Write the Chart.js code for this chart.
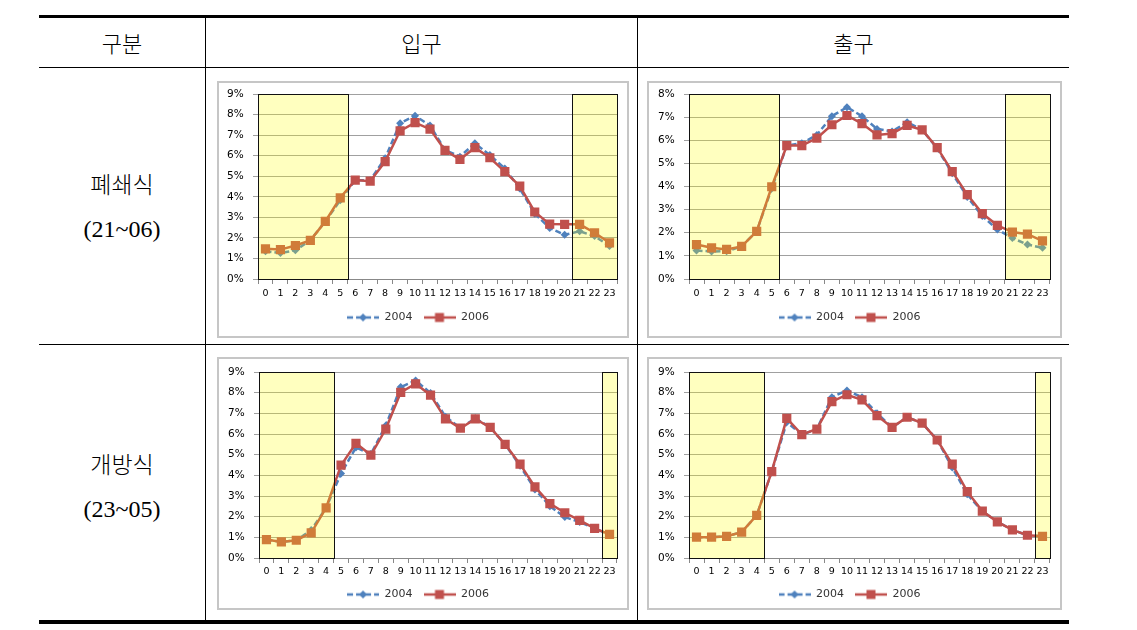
<!DOCTYPE html>
<html>
<head>
<meta charset="utf-8">
<script src="https://cdn.jsdelivr.net/npm/chart.js@4.4.1/dist/chart.umd.min.js"></script>
<style>
  body { margin: 0; background: #fff; width: 1137px; height: 630px; position: relative; overflow: hidden; }
  .ln { position: absolute; background: #000; }
  .txt { position: absolute; text-align: center; color: #000; }
  .hd { font-family: "Noto Sans CJK KR"; font-weight: 300; font-size: 22px; line-height: 28px; }
  .rw { font-family: "Liberation Serif"; font-size: 24px; line-height: 44px; }
  .rw .ko { font-family: "Noto Sans CJK KR"; font-weight: 300; font-size: 23px; }
  .frame { position: absolute; border: 2px solid #c6c6c6; background: #fff; }
  .frame canvas { display: block; }
</style>
</head>
<body>
<!-- table rules -->
<div class="ln" style="left:39px;top:15px;width:1030px;height:3px"></div>
<div class="ln" style="left:39px;top:67px;width:1030px;height:1px"></div>
<div class="ln" style="left:39px;top:344px;width:1030px;height:1px"></div>
<div class="ln" style="left:39px;top:620px;width:1030px;height:4px"></div>
<div class="ln" style="left:205px;top:18px;width:1px;height:602px"></div>
<div class="ln" style="left:637px;top:18px;width:1px;height:602px"></div>

<div class="txt hd" style="left:39px;top:28px;width:166px">구분</div>
<div class="txt hd" style="left:206px;top:28px;width:431px">입구</div>
<div class="txt hd" style="left:638px;top:28px;width:431px">출구</div>

<div class="txt rw" style="left:39px;top:161px;width:166px"><span class="ko">폐쇄식</span><br>(21~06)</div>
<div class="txt rw" style="left:39px;top:441px;width:166px"><span class="ko">개방식</span><br>(23~05)</div>

<div class="frame" style="left:217px;top:81px"><canvas id="c1" width="408" height="253"></canvas></div>
<div class="frame" style="left:647px;top:81px"><canvas id="c2" width="411" height="253"></canvas></div>
<div class="frame" style="left:217px;top:357px"><canvas id="c3" width="408" height="249"></canvas></div>
<div class="frame" style="left:647px;top:357px"><canvas id="c4" width="411" height="249"></canvas></div>

<script>
// hours of the day
const hours = ['0','1','2','3','4','5','6','7','8','9','10','11','12','13','14','15','16','17','18','19','20','21','22','23'];
const seriesNames = ['2004', '2006'];

// 입구 / 폐쇄식 (%)
const inClosed2004 = [1.35,1.26,1.40,1.88,2.80,3.83,4.81,4.81,5.87,7.58,7.94,7.47,6.28,5.95,6.60,6.03,5.38,4.40,3.18,2.48,2.15,2.32,2.09,1.60];
const inClosed2006 = [1.47,1.43,1.63,1.88,2.80,3.95,4.81,4.76,5.71,7.21,7.61,7.29,6.26,5.82,6.39,5.90,5.22,4.52,3.26,2.67,2.66,2.66,2.25,1.76];
// 출구 / 폐쇄식
const outClosed2004 = [1.23,1.19,1.20,1.41,2.06,3.91,5.77,5.87,6.23,7.04,7.43,7.04,6.49,6.38,6.78,6.45,5.65,4.57,3.55,2.72,2.14,1.77,1.49,1.35];
const outClosed2006 = [1.49,1.35,1.28,1.41,2.06,3.99,5.77,5.77,6.09,6.67,7.07,6.72,6.23,6.29,6.64,6.45,5.68,4.64,3.65,2.83,2.32,2.03,1.94,1.65];
// 입구 / 개방식
const inOpen2004 = [0.89,0.78,0.86,1.35,2.43,4.09,5.35,5.03,6.41,8.27,8.59,7.98,6.84,6.28,6.76,6.32,5.50,4.46,3.32,2.51,1.98,1.74,1.43,1.14];
const inOpen2006 = [0.89,0.78,0.86,1.22,2.43,4.49,5.55,4.98,6.24,8.01,8.43,7.88,6.73,6.28,6.73,6.32,5.50,4.54,3.44,2.63,2.19,1.82,1.43,1.14];
// 출구 / 개방식
const outOpen2004 = [1.01,1.01,1.05,1.25,2.06,4.18,6.57,5.97,6.24,7.78,8.11,7.78,7.00,6.32,6.81,6.53,5.71,4.38,3.08,2.27,1.75,1.36,1.10,1.05];
const outOpen2006 = [1.01,1.01,1.05,1.25,2.06,4.18,6.76,5.97,6.24,7.57,7.90,7.65,6.89,6.32,6.81,6.53,5.71,4.54,3.21,2.27,1.75,1.36,1.10,1.05];

// shaded (closed) hours: [first hour, end hour)
const closedShade = [[0, 6], [21, 24]];
const openShade = [[0, 5], [23, 24]];

const blue = '#4F81BD', red = '#C0504D';

// yellow box over the closed hours, drawn on top of the lines like the original
const shadePlugin = {
  id: 'shade',
  afterDatasetsDraw(chart, args, opts) {
    const { ctx, chartArea: a, scales: { x } } = chart;
    ctx.save();
    opts.ranges.forEach(([from, to]) => {
      const x0 = Math.round(x.getPixelForValue(from - 0.5)) + 0.5;
      const x1 = Math.round(x.getPixelForValue(to - 0.5)) + 0.5;
      ctx.fillStyle = 'rgba(255,255,0,0.25)';
      ctx.fillRect(x0, a.top, x1 - x0, a.bottom - a.top);
      ctx.strokeStyle = '#111';
      ctx.lineWidth = 1;
      ctx.strokeRect(x0, Math.round(a.top) + 0.5, x1 - x0, Math.round(a.bottom - a.top));
    });
    ctx.restore();
  }
};

function legendIcon(color, dashed, marker) {
  const c = document.createElement('canvas');
  c.width = 32; c.height = 12;
  const g = c.getContext('2d');
  g.strokeStyle = color; g.lineWidth = 2.5;
  if (dashed) g.setLineDash([6, 3]);
  g.beginPath(); g.moveTo(0, 6); g.lineTo(32, 6); g.stroke();
  g.fillStyle = color;
  if (marker === 'diamond') {
    g.beginPath(); g.moveTo(16, 2); g.lineTo(20, 6); g.lineTo(16, 10); g.lineTo(12, 6); g.closePath(); g.fill();
  } else {
    g.fillRect(11.5, 1.5, 9, 9);
  }
  return c;
}
const icon2004 = legendIcon(blue, true, 'diamond');
const icon2006 = legendIcon(red, false, 'square');

function makeChart(id, s2004, s2006, yMax, shade, plotLeft, padTop, padBottom, xHeight, xPad) {
  return new Chart(document.getElementById(id), {
    type: 'line',
    data: {
      labels: hours,
      datasets: [
        {
          label: seriesNames[0], data: s2004, order: 2,
          borderColor: blue, backgroundColor: blue, borderWidth: 2.5, borderDash: [6, 3],
          pointStyle: 'rectRot', pointRadius: 4, pointBorderWidth: 0, tension: 0
        },
        {
          label: seriesNames[1], data: s2006, order: 1,
          borderColor: red, backgroundColor: red, borderWidth: 2.5,
          pointStyle: 'rect', pointRadius: 6.5, pointBorderWidth: 0, tension: 0
        }
      ]
    },
    options: {
      responsive: false,
      animation: false,
      layout: { padding: { top: padTop, right: 10, left: 0, bottom: padBottom } },
      plugins: {
        tooltip: { enabled: false },
        shade: { ranges: shade },
        legend: {
          position: 'bottom',
          labels: {
            usePointStyle: true,
            pointStyleWidth: 32,
            padding: 11,
            color: '#333',
            font: { family: 'DejaVu Sans', size: 11 },
            generateLabels: (chart) => [
              { text: seriesNames[0], pointStyle: icon2004, datasetIndex: 0, fontColor: '#333', lineWidth: 0, strokeStyle: 'transparent', fillStyle: 'transparent' },
              { text: seriesNames[1], pointStyle: icon2006, datasetIndex: 1, fontColor: '#333', lineWidth: 0, strokeStyle: 'transparent', fillStyle: 'transparent' }
            ]
          }
        }
      },
      scales: {
        x: {
          offset: true,
          afterFit: (s) => { s.height = xHeight; },
          grid: { offset: true, drawOnChartArea: false, drawTicks: true, tickLength: 5, color: '#888' },
          border: { color: '#888' },
          ticks: { color: '#000', padding: xPad, maxRotation: 0, autoSkip: false, font: { family: 'DejaVu Sans', size: 9.5 } }
        },
        y: {
          min: 0, max: yMax,
          afterFit: (s) => { s.width = plotLeft; },
          grid: { color: '#a0a0a0', drawTicks: true, tickLength: 5 },
          border: { color: '#888' },
          // small padding keeps the plot top free; the en space gives the gap to the axis
          ticks: { stepSize: 1, color: '#000', padding: 4, font: { family: 'DejaVu Sans', size: 10.5 }, callback: (v) => v + '%\u2002' }
        }
      }
    },
    plugins: [shadePlugin]
  });
}

makeChart('c1', inClosed2004, inClosed2006, 9, closedShade, 39, 11, 3, 22, 4);
makeChart('c2', outClosed2004, outClosed2006, 8, closedShade, 40, 11, 3, 22, 4);
makeChart('c3', inOpen2004, inOpen2006, 9, openShade, 40, 13, -2, 20, 2.5);
makeChart('c4', outOpen2004, outOpen2006, 9, openShade, 40, 13, -2, 20, 2.5);
</script>
</body>
</html>
